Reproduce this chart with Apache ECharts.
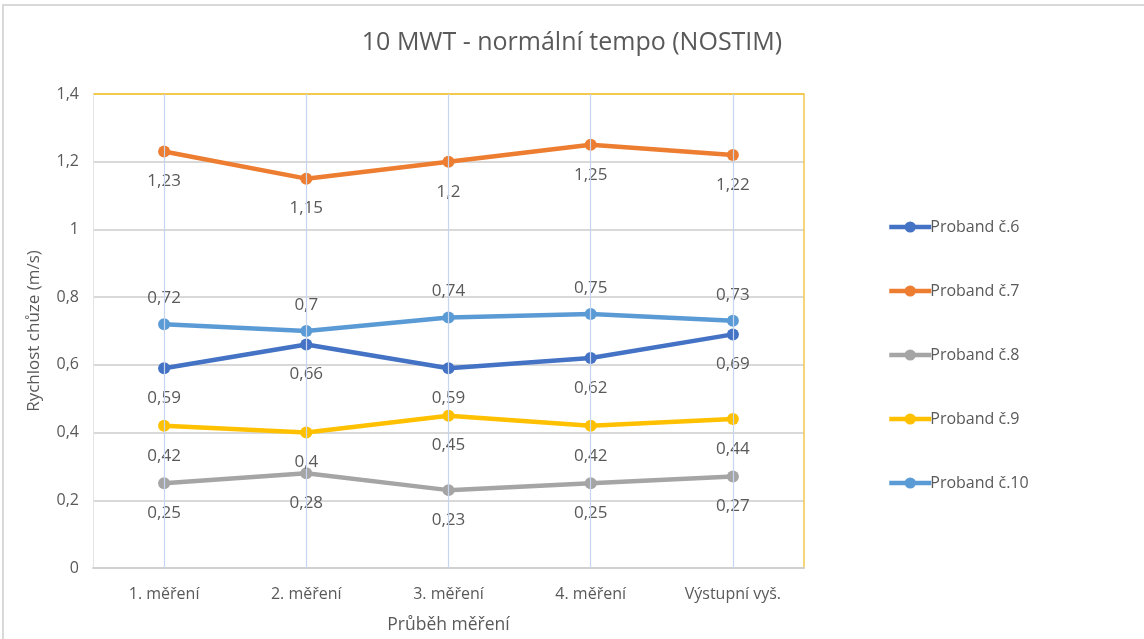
<!DOCTYPE html>
<html><head><meta charset="utf-8">
<script src="https://cdn.jsdelivr.net/npm/echarts@6/dist/echarts.min.js"></script>
<style>html,body{margin:0;padding:0;background:#fff}#c{width:1144px;height:639px}</style>
</head><body><div id="c"></div>
<script>
const categories = ['1. měření', '2. měření', '3. měření', '4. měření', 'Výstupní vyš.'];
const seriesNames = ['Proband č.6', 'Proband č.7', 'Proband č.8', 'Proband č.9', 'Proband č.10'];
const p6 = [0.59, 0.66, 0.59, 0.62, 0.69];
const p7 = [1.23, 1.15, 1.2, 1.25, 1.22];
const p8 = [0.25, 0.28, 0.23, 0.25, 0.27];
const p9 = [0.42, 0.4, 0.45, 0.42, 0.44];
const p10 = [0.72, 0.7, 0.74, 0.75, 0.73];
const colors = ['#4472c4', '#ed7d31', '#a5a5a5', '#ffc000', '#5b9bd5'];
const labelPos = ['bottom', 'bottom', 'bottom', 'bottom', 'top'];
const allData = [p6, p7, p8, p9, p10];

const FONT = '"Open Sans", "Noto Sans", sans-serif';
const TXT = '#595959';
const chart = echarts.init(document.getElementById('c'));
const fmt = v => String(v).replace('.', ',');

const gridSeries = {
  name: '_grid', type: 'line', data: [], z: 1, silent: true,
  markLine: {
    silent: true, symbol: ['none', 'none'], label: { show: false },
    lineStyle: { color: '#c6d5ee', width: 1.2, type: 'solid' },
    emphasis: { disabled: true },
    data: categories.map(c => ({ xAxis: c }))
  }
};

chart.setOption({
  animation: false,
  textStyle: { fontFamily: FONT },
  title: { text: '10 MWT - normální tempo (NOSTIM)', left: 'center', top: 25,
    textStyle: { fontFamily: FONT, fontSize: 25, fontWeight: 'normal', color: TXT } },
  graphic: [{ type: 'rect', shape: { x: 3, y: 5, width: 1160, height: 700 }, style: { fill: null, stroke: '#d9d9d9', lineWidth: 2 }, silent: true }],
  legend: {
    orient: 'vertical', left: 882, top: 214, itemGap: 48, itemWidth: 42, itemHeight: 14,
    textStyle: { fontFamily: FONT, fontSize: 16, color: TXT, padding: [0, 0, 0, -6] },
    lineStyle: { width: 4.5 },
    data: seriesNames
  },
  grid: { left: 93, right: 340, top: 94, bottom: 71 },
  xAxis: {
    type: 'category', data: categories, boundaryGap: true,
    name: 'Průběh měření', nameLocation: 'middle', nameGap: 48,
    nameTextStyle: { fontFamily: FONT, fontSize: 17.5, color: TXT },
    axisLine: { lineStyle: { color: '#d0d0d0', width: 2 } },
    axisTick: { show: false },
    axisLabel: { fontFamily: FONT, fontSize: 16, color: TXT, margin: 18 },
    splitLine: { show: false }
  },
  yAxis: [{
    type: 'value', min: 0, max: 1.4, interval: 0.2,
    name: 'Rychlost chůze (m/s)', nameLocation: 'middle', nameGap: 50,
    nameTextStyle: { fontFamily: FONT, fontSize: 17, color: TXT },
    axisLine: { show: true, lineStyle: { color: '#e4e4e4', width: 1 } },
    axisTick: { show: false },
    axisLabel: { fontFamily: FONT, fontSize: 16, color: TXT, margin: 14, formatter: v => fmt(+v.toFixed(1)) },
    splitLine: { show: true, lineStyle: { color: ['#d9d9d9','#d9d9d9','#d9d9d9','#d9d9d9','#d9d9d9','#d9d9d9','#d9d9d9','#f2c94c'], width: 2 } }
  }, {
    type: 'value', min: 0, max: 1.4, interval: 0.2, position: 'right',
    axisLine: { show: true, lineStyle: { color: '#f2c94c', width: 1.5 } },
    axisTick: { show: false }, axisLabel: { show: false }, splitLine: { show: false }
  }],
  series: [gridSeries].concat(allData.map((d, i) => ({
    name: seriesNames[i], type: 'line', data: d, yAxisIndex: 0,
    symbol: 'circle', symbolSize: 12,
    lineStyle: { width: 4.5, color: colors[i] },
    itemStyle: { color: colors[i] },
    label: { show: true, position: labelPos[i], distance: labelPos[i] === 'top' ? 11.5 : 15.5,
      fontFamily: FONT, fontSize: 17, color: TXT,
      formatter: p => fmt(p.value) }
  })))
});
</script></body></html>
